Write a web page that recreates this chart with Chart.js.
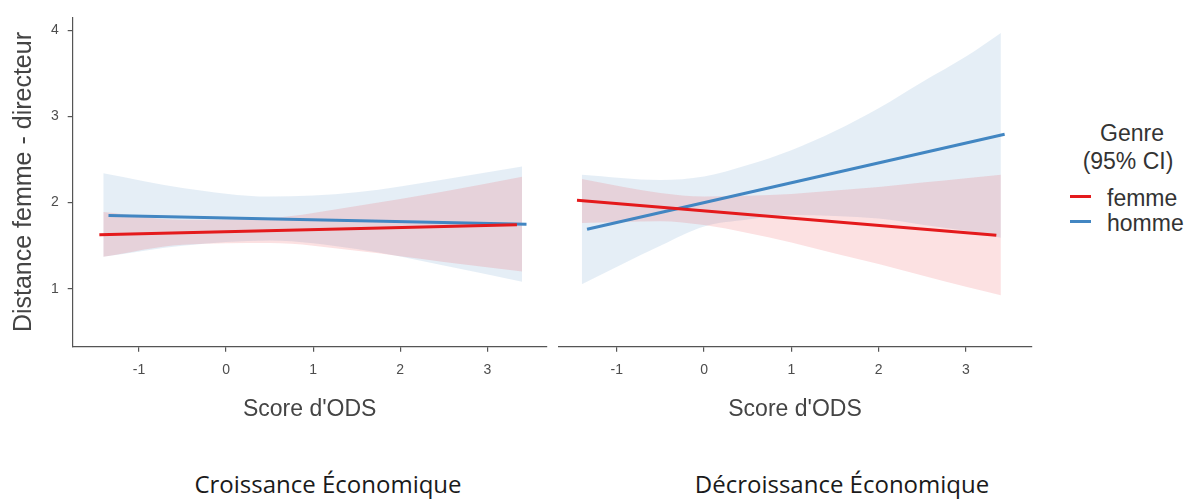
<!DOCTYPE html>
<html>
<head>
<meta charset="utf-8">
<script src="https://cdn.jsdelivr.net/npm/chart.js@4.4.0/dist/chart.umd.min.js"></script>
<style>
body{margin:0;background:#fff;width:1192px;height:500px;position:relative;overflow:hidden;font-family:"Liberation Sans",Arial,sans-serif}
canvas{position:absolute;top:0}
#left{left:0}
#right{left:552px}
.txt{position:absolute;white-space:nowrap;color:#333;font-size:23px;line-height:27px}
.sw{position:absolute;width:21px;height:3px}
.cap{position:absolute;white-space:nowrap;font-family:"Open Sans",Lato,sans-serif;font-weight:400;font-size:24px;line-height:30px;color:#1a1a1a;text-align:center}
</style>
</head>
<body>
<canvas id="left" width="552" height="440"></canvas>
<canvas id="right" width="490" height="440"></canvas>

<div class="txt" style="left:1062px;top:120px;width:140px;text-align:center">Genre</div>
<div class="txt" style="left:1058px;top:148px;width:140px;text-align:center">(95% CI)</div>
<div class="sw" style="left:1070px;top:195px;background:#E41A1C"></div>
<div class="txt" style="left:1107px;top:185px">femme</div>
<div class="sw" style="left:1070px;top:220px;background:#4286C2"></div>
<div class="txt" style="left:1107px;top:210px">homme</div>

<div class="cap" style="left:178px;top:469px;width:300px">Croissance Économique</div>
<div class="cap" style="left:692px;top:469px;width:300px">Décroissance Économique</div>

<script>
// axes
const yMin = 0.326, yMax = 4.152;
const croisXMin = -1.761, croisXMax = 3.682;
const decrXMin = -1.669, decrXMax = 3.753;

// Croissance économique (panneau gauche)
const croisFemmeLineX = [-1.455, 3.34];
const croisFemmeLineY = [1.628, 1.742];
const croisHommeLineX = [-1.35, 3.45];
const croisHommeLineY = [1.85, 1.75];
const croisBandX = [-1.41, -0.5, 0.5, 1.5, 2.5, 3.40];
const croisFemmeHaut = [1.89, 1.80, 1.82, 1.96, 2.13, 2.30];
const croisFemmeBas = [1.37, 1.51, 1.53, 1.44, 1.31, 1.20];
const croisHommeHaut = [2.34, 2.17, 2.07, 2.12, 2.27, 2.42];
const croisHommeBas = [1.37, 1.50, 1.56, 1.46, 1.27, 1.08];

// Décroissance économique (panneau droit)
const decrFemmeLineX = [-1.455, 3.348];
const decrFemmeLineY = [1.998, 1.598];
const decrHommeLineX = [-1.34, 3.443];
const decrHommeLineY = [1.667, 2.752];
const decrBandX = [-1.40, -0.5, 0, 0.5, 1.0, 1.5, 2.0, 2.5, 3.0, 3.40];
const decrFemmeHaut = [2.24, 2.08, 2.04, 2.05, 2.07, 2.11, 2.15, 2.20, 2.25, 2.29];
const decrFemmeBas = [1.74, 1.76, 1.715, 1.625, 1.515, 1.39, 1.27, 1.14, 1.01, 0.915];
const decrHommeHaut = [2.29, 2.23, 2.27, 2.40, 2.57, 2.79, 3.05, 3.35, 3.64, 3.91];
const decrHommeBas = [1.04, 1.48, 1.70, 1.78, 1.83, 1.82, 1.79, 1.72, 1.65, 1.57];

const femmeCol = '#E41A1C', hommeCol = '#4286C2';
const femmeFill = 'rgba(228,26,28,0.13)', hommeFill = 'rgba(55,126,184,0.13)';
const axisCol = '#555';
const font = '"Liberation Sans", Arial, sans-serif';

function pts(xs, ys){ return xs.map((x,i)=>({x:x, y:ys[i]})); }

function datasets(fx, fy, hx, hy, bx, fh, fb, hh, hb){
  const band = {borderWidth:0, pointRadius:0, cubicInterpolationMode:'monotone'};
  return [
    {data:pts(fx,fy), borderColor:femmeCol, borderWidth:3, pointRadius:0, fill:false, order:0},
    {data:pts(hx,hy), borderColor:hommeCol, borderWidth:3, pointRadius:0, fill:false, order:0},
    Object.assign({data:pts(bx,hh), backgroundColor:hommeFill, fill:'+1', order:2}, band),
    Object.assign({data:pts(bx,hb), fill:false, order:2}, band),
    Object.assign({data:pts(bx,fh), backgroundColor:femmeFill, fill:'+1', order:1}, band),
    Object.assign({data:pts(bx,fb), fill:false, order:1}, band)
  ];
}

function xScale(min, max){
  return {
    type:'linear', min:min, max:max,
    ticks:{stepSize:1, includeBounds:false, color:'#4d4d4d', font:{family:font, size:14}, padding:10, maxRotation:0},
    grid:{drawOnChartArea:false, color:axisCol, tickLength:5, lineWidth:1.2},
    border:{color:axisCol, width:1.2},
    title:{display:true, text:"Score d'ODS", color:'#444', font:{family:font, size:23}, padding:{bottom:17}},
    afterFit(s){ s.height = 440 - 346.7; }
  };
}

const common = {
  responsive:false, animation:false,
  plugins:{legend:{display:false}, tooltip:{enabled:false}},
  elements:{line:{borderCapStyle:'butt'}}
};

new Chart(document.getElementById('left'), {
  type:'line',
  data:{datasets:datasets(croisFemmeLineX, croisFemmeLineY, croisHommeLineX, croisHommeLineY,
    croisBandX, croisFemmeHaut, croisFemmeBas, croisHommeHaut, croisHommeBas)},
  options:Object.assign({}, common, {
    layout:{padding:{top:11.7, right:5.3, left:0, bottom:0}},
    scales:{
      x:xScale(croisXMin, croisXMax),
      y:{
        min:yMin, max:yMax,
        ticks:{stepSize:1, includeBounds:false, color:'#4d4d4d', font:{family:font, size:14}, padding:9},
        grid:{drawOnChartArea:false, color:axisCol, tickLength:5, lineWidth:1.2},
        border:{color:axisCol, width:1.2},
        title:{display:true, text:'Distance femme - directeur', color:'#444', font:{family:font, size:25}, padding:{top:9}},
        afterFit(s){ s.width = 72.7; }
      }
    }
  })
});

new Chart(document.getElementById('right'), {
  type:'line',
  data:{datasets:datasets(decrFemmeLineX, decrFemmeLineY, decrHommeLineX, decrHommeLineY,
    decrBandX, decrFemmeHaut, decrFemmeBas, decrHommeHaut, decrHommeBas)},
  options:Object.assign({}, common, {
    layout:{padding:{top:11.7, right:10.3, left:6.3, bottom:0}},
    scales:{
      x:xScale(decrXMin, decrXMax),
      y:{display:false, min:yMin, max:yMax}
    }
  })
});
</script>
</body>
</html>
